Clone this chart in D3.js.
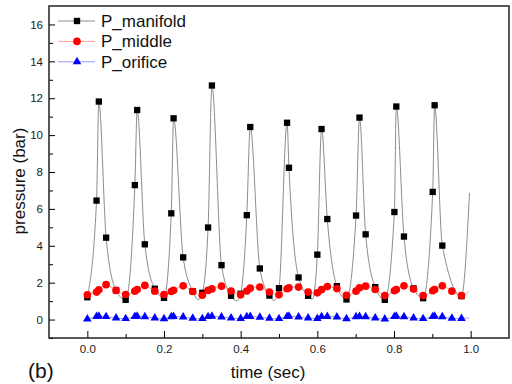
<!DOCTYPE html>
<html><head><meta charset="utf-8">
<script src="https://cdn.jsdelivr.net/npm/d3@7"></script>
<style>body{margin:0;background:#fff}svg{display:block}text{font-family:"Liberation Sans",Arial,sans-serif}</style>
</head><body><svg id="c" width="512" height="384"></svg>
<script>
const time = [0,0.024,0.030,0.049,0.075,0.100,0.124,0.130,0.150,0.176,0.200,0.219,0.225,0.250,0.275,0.300,0.315,0.325,0.350,0.375,0.400,0.416,0.425,0.450,0.475,0.500,0.521,0.526,0.551,0.576,0.600,0.611,0.626,0.651,0.676,0.701,0.710,0.726,0.751,0.776,0.801,0.806,0.826,0.851,0.876,0.901,0.906,0.926,0.951,0.976];
const manifold = [1.21,6.45,11.82,4.44,1.58,1.07,7.29,11.36,4.08,1.67,1.18,5.76,10.91,3.37,1.54,1.45,4.99,12.69,2.95,1.29,1.40,5.66,10.44,2.77,1.30,1.70,10.67,8.23,2.28,1.29,3.52,10.33,5.45,1.81,1.09,5.64,10.95,4.62,1.76,1.07,5.83,11.55,4.50,1.69,1.16,6.92,11.62,4.01,null,1.27];
const middle = [1.34,1.49,1.61,1.89,1.58,1.36,1.54,1.63,1.85,1.54,1.36,1.52,1.59,1.83,1.52,1.32,1.58,1.66,1.81,1.55,1.34,1.55,1.70,1.76,1.49,1.34,1.67,1.72,1.76,1.49,1.45,1.62,1.79,1.68,1.32,1.54,1.72,1.81,1.63,1.30,1.56,1.63,1.83,1.65,1.30,1.56,1.63,1.83,1.54,1.30];
const orifice = [0.03,0.17,0.18,0.16,0.08,0.05,0.17,0.18,0.15,0.08,0.04,0.15,0.17,0.14,0.07,0.05,0.16,0.18,0.14,0.08,0.06,0.16,0.17,0.13,0.07,0.05,0.17,0.18,0.14,0.08,0.06,0.16,0.17,0.14,0.04,0.15,0.17,0.15,0.08,0.03,0.16,0.18,0.15,0.08,0.05,0.16,0.18,0.15,0.07,0.06];
// extra points of the gray fitted manifold curve (troughs and tail)
const fitExtraTime = [0.290,0.390,0.487,0.587,0.997];
const fitExtraValue = [1.08,1.02,1.03,1.10,6.87];
const middleTail = [0.997,1.55];
const orificeTail = [0.997,0.10];
const xTicks = [0,0.2,0.4,0.6,0.8,1.0];
const yTicks = [0,2,4,6,8,10,12,14,16];
const legendNames = ["P_manifold","P_middle","P_orifice"];

const svg = d3.select("#c");
const x = d3.scaleLinear().domain([-0.1,1.1]).range([49,509]);
const y = d3.scaleLinear().domain([-1,17]).range([338,6]);

// gray fit line
const fitPts = time.map((t,i)=>[t,manifold[i]]).filter(d=>d[1]!=null)
  .concat(fitExtraTime.map((t,i)=>[t,fitExtraValue[i]])).sort((a,b)=>a[0]-b[0]);
const line = d3.line().x(d=>x(d[0])).y(d=>y(d[1])).curve(d3.curveMonotoneX);
svg.append("path").attr("d",line(fitPts)).attr("fill","none").attr("stroke","#8c8c8c").attr("stroke-width",1);
const midPts = time.map((t,i)=>[t,middle[i]]).concat([middleTail]);
svg.append("path").attr("d",d3.line().x(d=>x(d[0])).y(d=>y(d[1])).curve(d3.curveCatmullRom)(midPts)).attr("fill","none").attr("stroke","#ff9a9a").attr("stroke-width",1);
const oriPts = time.map((t,i)=>[t,orifice[i]]).concat([orificeTail]);
svg.append("path").attr("d",d3.line().x(d=>x(d[0])).y(d=>y(d[1])).curve(d3.curveCatmullRom)(oriPts)).attr("fill","none").attr("stroke","#9a9aff").attr("stroke-width",1);

// markers
const sq = d3.symbol().type(d3.symbolSquare).size(40);
const ci = d3.symbol().type(d3.symbolCircle).size(46);
const tr = d3.symbol().type(d3.symbolTriangle).size(32);
svg.append("g").selectAll("path").data(time.map((t,i)=>[t,orifice[i]])).join("path")
  .attr("d",tr).attr("transform",d=>`translate(${x(d[0])},${y(d[1])})`).attr("fill","#0000ff");
svg.append("g").selectAll("path").data(time.map((t,i)=>[t,manifold[i]]).filter(d=>d[1]!=null)).join("path")
  .attr("d",sq).attr("transform",d=>`translate(${x(d[0])},${y(d[1])})`).attr("fill","#000");
svg.append("g").selectAll("path").data(time.map((t,i)=>[t,middle[i]])).join("path")
  .attr("d",ci).attr("transform",d=>`translate(${x(d[0])},${y(d[1])})`).attr("fill","#ff0000");

// axes
const xa = svg.append("g").attr("transform","translate(0,338)")
  .call(d3.axisBottom(x).tickValues(xTicks).tickFormat(d3.format(".1f")).tickSizeInner(-7).tickSizeOuter(0).tickPadding(7));
xa.select(".domain").remove();
xa.selectAll("text").attr("font-size",11.5).attr("fill","#222").attr("font-family","Liberation Sans, Arial");
svg.append("g").attr("transform","translate(0,338)")
  .call(d3.axisBottom(x).tickValues([0.1,0.3,0.5,0.7,0.9]).tickFormat("").tickSizeInner(-4).tickSizeOuter(0))
  .select(".domain").remove();
const ya = svg.append("g").attr("transform","translate(49,0)")
  .call(d3.axisLeft(y).tickValues(yTicks).tickSizeInner(-6).tickSizeOuter(0).tickPadding(6));
ya.select(".domain").remove();
ya.selectAll("text").attr("font-size",11.5).attr("fill","#222").attr("font-family","Liberation Sans, Arial");
svg.append("g").attr("transform","translate(49,0)")
  .call(d3.axisLeft(y).tickValues([-1,1,3,5,7,9,11,13,15]).tickFormat("").tickSizeInner(-4).tickSizeOuter(0))
  .select(".domain").remove();

// frame
svg.append("rect").attr("x",49).attr("y",6).attr("width",460).attr("height",332)
  .attr("fill","none").attr("stroke","#222").attr("stroke-width",1.5);

// legend
const lg = svg.append("g");
const lcol = ["#8c8c8c","#ff9a9a","#9a9aff"];
const lsym = [sq,ci,tr];
const mcol = ["#000","#ff0000","#0000ff"];
legendNames.forEach((n,i)=>{
  const cy = 21 + i*20.4;
  lg.append("line").attr("x1",58).attr("x2",95).attr("y1",cy).attr("y2",cy).attr("stroke",lcol[i]);
  lg.append("path").attr("d",lsym[i]).attr("transform",`translate(77,${cy})`).attr("fill",mcol[i]);
  lg.append("text").attr("x",101).attr("y",cy+6).attr("font-size",17).attr("fill","#111").text(n);
});

svg.append("text").attr("x",268).attr("y",378).attr("text-anchor","middle").attr("font-size",17).attr("fill","#111").text("time (sec)");
svg.append("text").attr("transform","translate(25,181) rotate(-90)").attr("text-anchor","middle").attr("font-size",17).attr("fill","#111").text("pressure (bar)");
svg.append("text").attr("x",28).attr("y",378).attr("font-size",21).attr("fill","#111").text("(b)");
</script></body></html>
